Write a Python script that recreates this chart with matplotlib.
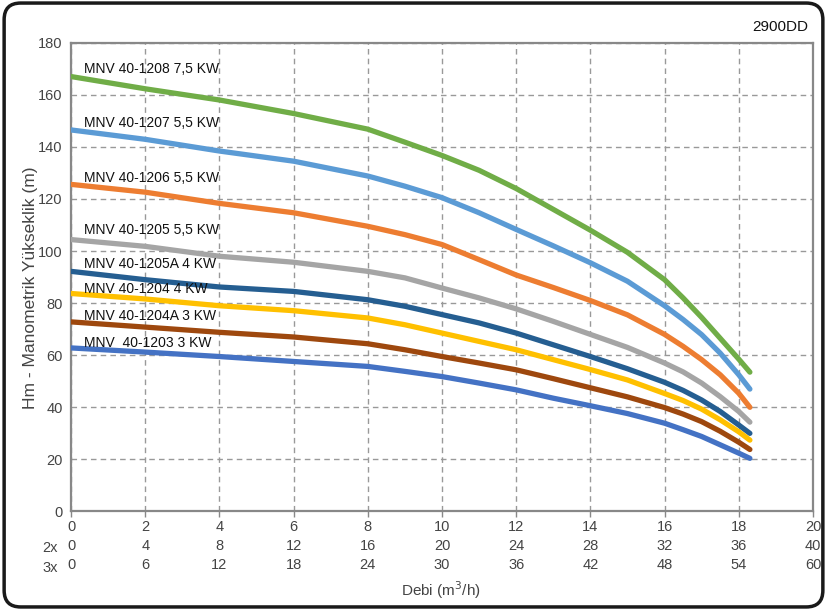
import matplotlib
matplotlib.use('Agg')
import matplotlib.pyplot as plt
from matplotlib.patches import FancyBboxPatch

plt.rcParams['font.family'] = ['Liberation Sans Narrow', 'Liberation Sans', 'DejaVu Sans']

# debi (m3/h) - okunan noktalar
q = [0, 2, 4, 6, 8, 9, 10, 11, 12, 13, 14, 15, 16, 16.5, 17, 17.5, 18, 18.3]

h_1208 = [167, 162.3, 158, 152.8, 146.8, 141.8, 136.7, 131, 124, 116, 108, 99.5, 89, 82, 74.5, 66.5, 58.5, 53.5]
h_1207 = [146.5, 142.9, 138.4, 134.5, 128.8, 124.9, 120.5, 114.7, 108.3, 102, 95.5, 88.4, 79, 73.7, 67.9, 60.8, 52.5, 47]
h_1206 = [125.6, 122.6, 118.3, 114.7, 109.5, 106.3, 102.5, 96.7, 90.8, 86, 81, 75.5, 68, 63.4, 58.3, 52.5, 45.4, 40]
h_1205 = [104.4, 101.8, 98, 95.7, 92.2, 89.7, 85.8, 82, 77.8, 73, 68, 63, 57, 53.6, 49.3, 44.1, 38.4, 34.3]
h_1205A = [92.2, 89, 86.2, 84.5, 81.3, 78.8, 75.6, 72.4, 68.5, 64, 59.5, 54.8, 49.6, 46.5, 42.8, 38.4, 33.2, 30]
h_1204 = [83.7, 81.6, 79, 77.1, 74.3, 71.7, 68.5, 65.3, 62.1, 58.3, 54.5, 50.5, 45.3, 42.6, 39.3, 35.2, 30.6, 27.4]
h_1204A = [72.8, 70.8, 68.8, 67, 64.4, 62.1, 59.5, 57, 54.4, 51, 47.5, 44, 39.9, 37.4, 34.5, 30.8, 26.6, 23.8]
h_1203 = [62.8, 61.2, 59.5, 57.6, 55.7, 53.8, 51.8, 49.3, 46.7, 43.5, 40.6, 37.6, 33.9, 31.4, 28.8, 25.6, 22.4, 20.4]

names = ['MNV 40-1208 7,5 KW', 'MNV 40-1207 5,5 KW', 'MNV 40-1206 5,5 KW', 'MNV 40-1205 5,5 KW',
         'MNV 40-1205A 4 KW', 'MNV 40-1204 4 KW', 'MNV 40-1204A 3 KW', 'MNV  40-1203 3 KW']
series = [h_1208, h_1207, h_1206, h_1205, h_1205A, h_1204, h_1204A, h_1203]
colors = ['#70AD47', '#5B9BD5', '#ED7D31', '#A5A5A5', '#255E91', '#FFC000', '#9E480E', '#4472C4']
label_y = [169.8, 149, 127.9, 107.9, 95.1, 85.5, 75.2, 64.7]

x_ticks = [0, 2, 4, 6, 8, 10, 12, 14, 16, 18, 20]
x_2x = [0, 4, 8, 12, 16, 20, 24, 28, 32, 36, 40]
x_3x = [0, 6, 12, 18, 24, 30, 36, 42, 48, 54, 60]
y_ticks = [0, 20, 40, 60, 80, 100, 120, 140, 160, 180]

fig = plt.figure(figsize=(8.27, 6.10), dpi=100)
ax = fig.add_axes([0.086, 0.1615, 0.897, 0.7685])

for h, c, n, ly in zip(series, colors, names, label_y):
    ax.plot(q, h, color=c, lw=3.8, solid_capstyle='round', solid_joinstyle='round', zorder=3)
    ax.text(0.36, ly, n, fontsize=10, color='#111111', va='center', ha='left', zorder=4)

ax.set_xlim(0, 20)
ax.set_ylim(0, 180)
ax.set_yticks(y_ticks)
ax.set_xticks(x_ticks)
ax.set_xticklabels([f"{a}\n{b}\n{c}" for a, b, c in zip(x_ticks, x_2x, x_3x)], linespacing=1.45)
ax.tick_params(axis='x', length=4, width=1, color='#888888', labelsize=10.5, labelcolor='#444444', pad=2)
ax.tick_params(axis='y', length=0, labelsize=10.5, labelcolor='#444444', pad=6)

ax.grid(True, color='#999999', linestyle=(0, (4, 3)), lw=1, zorder=0)
for s in ax.spines.values():
    s.set_color('#888888')
    s.set_linewidth(1.6)

fig.text(50 / 827, 1 - 548 / 610, '2x', fontsize=10.5, color='#444444', ha='center', va='center')
fig.text(50 / 827, 1 - 568 / 610, '3x', fontsize=10.5, color='#444444', ha='center', va='center')
fig.text(441 / 827, 1 - 590 / 610, 'Debi (m$^3$/h)', fontsize=11, color='#444444', ha='center', va='center')
fig.text(30 / 827, 1 - 288 / 610, 'Hm - Manometrik Yükseklik (m)', fontsize=12.5, color='#444444',
         ha='center', va='center', rotation=90)
fig.text(808 / 827, 1 - 27 / 610, '2900DD', fontsize=11, color='#111111', ha='right', va='center')

# cerceve
border = FancyBboxPatch((0.005, 0.005), 0.99, 0.99, boxstyle='round,pad=0,rounding_size=0.02',
                        mutation_aspect=827 / 610, transform=fig.transFigure,
                        facecolor='none', edgecolor='#1a1a1a', lw=2.5)
fig.patches.append(border)

fig.savefig('out.png', dpi=100)
